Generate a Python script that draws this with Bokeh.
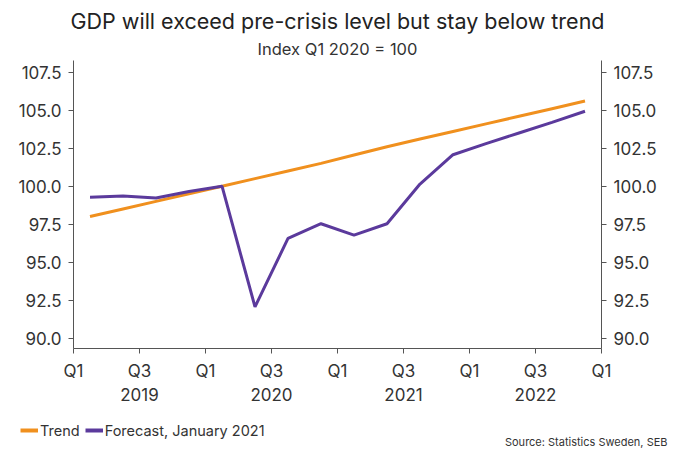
from bokeh.plotting import figure
from bokeh.layouts import column
from bokeh.models import (ColumnDataSource, LinearAxis, FixedTicker, Range1d, Legend, LegendItem,
                          Title, Label, NumeralTickFormatter)
from bokeh.embed import file_html
from bokeh.resources import INLINE

FONT = "Inter"

quarters = ["2019Q1", "2019Q2", "2019Q3", "2019Q4",
            "2020Q1", "2020Q2", "2020Q3", "2020Q4",
            "2021Q1", "2021Q2", "2021Q3", "2021Q4",
            "2022Q1", "2022Q2", "2022Q3", "2022Q4"]
trend = [98.0, 98.5, 99.0, 99.5, 100.0, 100.5, 101.0, 101.5,
         102.05, 102.6, 103.1, 103.6, 104.1, 104.6, 105.1, 105.6]
forecast = [99.28, 99.35, 99.22, 99.65, 100.0, 92.06, 96.56, 97.53,
            96.78, 97.53, 100.14, 102.07, 102.8, 103.5, 104.2, 104.93]

x_tick_labels = ["Q1", "Q3", "Q1", "Q3", "Q1", "Q3", "Q1", "Q3", "Q1"]
year_labels = ["2019", "2020", "2021", "2022"]
y_ticks = [90.0, 92.5, 95.0, 97.5, 100.0, 102.5, 105.0, 107.5]

title_text = "GDP will exceed pre-crisis level but stay below trend"
subtitle_text = "Index Q1 2020 = 100"
source_text = "Source: Statistics Sweden, SEB"
series_names = ["Trend", "Forecast, January 2021"]

ORANGE = "#F0901E"
PURPLE = "#5B3A9C"
AXIS = "#555555"
TXT = "#333333"

xpos = [i + 0.5 for i in range(len(quarters))]
src = ColumnDataSource(dict(x=xpos, q=quarters, trend=trend, forecast=forecast))

p = figure(width=668, height=405, output_backend="svg", toolbar_location=None,
           x_range=Range1d(0, len(quarters)), y_range=Range1d(89.32, 108.27),
           x_axis_location=None, y_axis_location=None,
           min_border_left=73, min_border_right=67, min_border_top=60, min_border_bottom=57)
p.frame_align = False
p.outline_line_color = None
p.xgrid.visible = False
p.ygrid.visible = False
p.background_fill_color = "white"
p.border_fill_color = "white"

p.line("x", "trend", source=src, line_color=ORANGE, line_width=3)
p.line("x", "forecast", source=src, line_color=PURPLE, line_width=3)


def style_axis(ax):
    ax.axis_line_color = AXIS
    ax.major_tick_line_color = AXIS
    ax.minor_tick_line_color = None
    ax.major_tick_in = 0
    ax.major_tick_out = 5
    ax.major_label_text_font = FONT
    ax.major_label_text_font_size = "17px"
    ax.major_label_text_color = TXT


# y axes
for side in ("left", "right"):
    ax = LinearAxis(ticker=FixedTicker(ticks=y_ticks), formatter=NumeralTickFormatter(format="0.0"))
    style_axis(ax)
    ax.major_label_standoff = 7
    p.add_layout(ax, side)

# quarter axis
qticks = [2 * i for i in range(len(x_tick_labels))]
qax = LinearAxis(ticker=FixedTicker(ticks=qticks),
                 major_label_overrides={t: l for t, l in zip(qticks, x_tick_labels)})
style_axis(qax)
qax.major_label_standoff = 7
p.add_layout(qax, "below")

# year axis
yticks = [2 + 4 * i for i in range(len(year_labels))]
yax = LinearAxis(ticker=FixedTicker(ticks=yticks),
                 major_label_overrides={t: l for t, l in zip(yticks, year_labels)})
style_axis(yax)
yax.axis_line_color = None
yax.major_tick_line_color = None
yax.major_tick_out = 0
yax.major_label_standoff = 4
p.add_layout(yax, "below")

# titles
p.add_layout(Title(text=subtitle_text, align="center", text_font=FONT, text_font_size="16.5px",
                   text_font_style="normal", text_color=TXT, standoff=3), "above")
p.add_layout(Title(text=title_text, align="center", text_font=FONT, text_font_size="21.5px",
                   text_font_style="normal", text_color="#222222", standoff=3), "above")

# footer figure: legend + source (series drawn off-frame, only their legend swatches show)
f = figure(width=668, height=44, output_backend="svg", toolbar_location=None,
           x_range=Range1d(0, len(quarters)), y_range=Range1d(0, 1),
           x_axis_location=None, y_axis_location=None,
           min_border_left=0, min_border_right=0, min_border_top=0, min_border_bottom=0)
f.frame_align = False
f.outline_line_color = None
f.xgrid.visible = False
f.ygrid.visible = False
l1 = f.line("x", "trend", source=src, line_color=ORANGE, line_width=4)
l2 = f.line("x", "forecast", source=src, line_color=PURPLE, line_width=4)
legend = Legend(items=[LegendItem(label=series_names[0], renderers=[l1]),
                       LegendItem(label=series_names[1], renderers=[l2])],
                location=(20, 9), orientation="horizontal",
                padding=0, margin=0, spacing=5, glyph_width=18, label_standoff=2,
                border_line_color=None, background_fill_alpha=0,
                label_text_font=FONT, label_text_font_size="14.5px", label_text_color=TXT)
f.add_layout(legend, "center")
f.add_layout(Label(x=667, y=1, x_units="screen", y_units="screen", text=source_text,
                   text_align="right", text_baseline="bottom", text_font=FONT,
                   text_font_size="11px", text_color=TXT))

layout = column(p, f, spacing=0)
open("out.html", "w").write(file_html(layout, INLINE))
